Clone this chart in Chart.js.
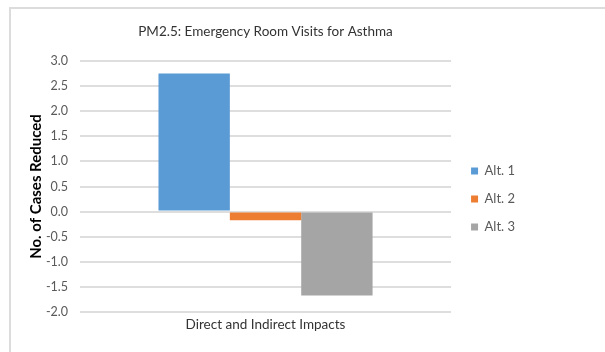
<!DOCTYPE html>
<html>
<head>
<meta charset="utf-8">
<script src="https://cdn.jsdelivr.net/npm/chart.js@4"></script>
<style>
  html, body { margin: 0; padding: 0; background: #fff; overflow: hidden; }
  body { width: 605px; height: 352px; position: relative; }
  #frame {
    position: absolute; left: 9px; top: 7px; width: 700px; height: 500px;
    border: 2px solid #dcdcdc; box-sizing: border-box;
  }
  #wrap { position: absolute; left: 0; top: 0; width: 605px; height: 398px; }
</style>
</head>
<body>
<div id="frame"></div>
<div id="wrap"><canvas id="chart"></canvas></div>
<script>
// PM2.5 asthma ER visits, cases reduced per alternative
const categories = ['Direct and Indirect Impacts'];
const seriesNames = ['Alt. 1', 'Alt. 2', 'Alt. 3'];
const alt1 = [2.75];
const alt2 = [-0.17];
const alt3 = [-1.67];
const seriesColors = ['#5b9bd5', '#ed7d31', '#a5a5a5'];

const FONT = "Lato, 'Liberation Sans', sans-serif";
const TEXT = '#595959';

new Chart(document.getElementById('chart'), {
    type: 'bar',
    data: {
        labels: categories,
        datasets: [alt1, alt2, alt3].map((values, i) => ({
            label: seriesNames[i],
            data: values,
            backgroundColor: seriesColors[i],
            borderWidth: 0,
            categoryPercentage: 0.577,
            barPercentage: 1,
        })),
    },
    options: {
        responsive: true,
        maintainAspectRatio: false,
        animation: false,
        layout: { padding: { left: 0, right: 80, top: 0, bottom: 0 } },
        plugins: {
            title: {
                display: true,
                text: 'PM2.5: Emergency Room Visits for Asthma',
                fullSize: false,
                color: '#333333',
                font: { family: FONT, size: 13.5, weight: 'normal' },
                padding: { top: 23.6, bottom: 21.2 },
            },
            legend: {
                position: 'right',
                labels: {
                    color: TEXT,
                    font: { family: FONT, size: 13 },
                    boxWidth: 7,
                    boxHeight: 7,
                    padding: 15,
                },
            },
            tooltip: { enabled: false },
        },
        scales: {
            x: {
                afterFit(axis) { axis.height = 86; },
                grid: { display: false, drawTicks: false },
                border: { display: false },
                ticks: {
                    color: '#333333',
                    font: { family: FONT, size: 13.5 },
                    padding: 5,
                },
            },
            y: {
                min: -2,
                max: 3,
                afterFit(axis) { axis.width = 80; },
                grid: { color: '#dedede', lineWidth: 2, drawTicks: false },
                border: { display: false },
                ticks: {
                    stepSize: 0.5,
                    color: TEXT,
                    font: { family: FONT, size: 12.5 },
                    padding: 12,
                    callback: v => v.toFixed(1),
                },
                title: {
                    display: true,
                    text: 'No. of Cases Reduced',
                    color: '#000',
                    font: { family: FONT, size: 15, weight: 'bold' },
                    padding: { top: 27, bottom: 0 },
                },
            },
            // empty spacer between plot and legend
            gap: {
                position: 'right',
                afterFit(axis) { axis.width = 5; },
                grid: { display: false, drawTicks: false },
                border: { display: false },
                ticks: { display: false },
            },
        },
    },
});
</script>
</body>
</html>
